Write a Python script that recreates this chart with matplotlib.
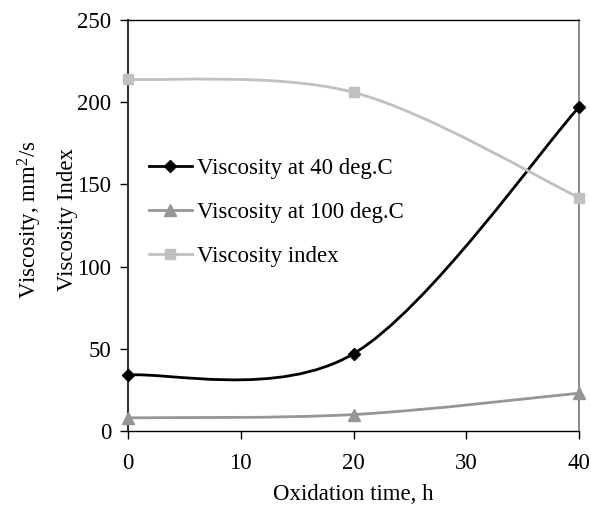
import matplotlib
matplotlib.use("Agg")
import matplotlib.pyplot as plt
from matplotlib.path import Path
from matplotlib.patches import PathPatch
from matplotlib.lines import Line2D

# data
time_h = [0, 20, 40]
visc_40 = [34, 47, 197]
visc_100 = [8, 10, 23]
visc_index = [214, 206, 142]

x_ticks = [0, 10, 20, 30, 40]
y_ticks = [0, 50, 100, 150, 200, 250]

plt.rcParams['font.family'] = ['Liberation Serif', 'DejaVu Serif']
plt.rcParams['mathtext.fontset'] = 'custom'
plt.rcParams['mathtext.rm'] = 'Liberation Serif'
plt.rcParams['mathtext.default'] = 'regular'

FS = 16.5


def smooth_path(xs, ys):
    # Catmull-Rom style bezier, like the spreadsheet "smoothed line"
    pts = list(zip(xs, ys))
    n = len(pts)
    verts = [pts[0]]
    codes = [Path.MOVETO]
    for i in range(n - 1):
        p0 = pts[i - 1] if i > 0 else pts[i]
        p1 = pts[i]
        p2 = pts[i + 1]
        p3 = pts[i + 2] if i + 2 < n else pts[i + 1]
        c1 = (p1[0] + (p2[0] - p0[0]) / 6, p1[1] + (p2[1] - p0[1]) / 6)
        c2 = (p2[0] - (p3[0] - p1[0]) / 6, p2[1] - (p3[1] - p1[1]) / 6)
        verts += [c1, c2, p2]
        codes += [Path.CURVE4] * 3
    return Path(verts, codes)


fig = plt.figure(figsize=(5.91, 5.08), dpi=100)
ax = fig.add_axes([0.2166, 0.1516, 0.7631, 0.809])

series = [
    (visc_40, 'Viscosity at 40 deg.C', 'black', 'D', 6),
    (visc_100, 'Viscosity at 100 deg.C', '#969696', '^', 8),
    (visc_index, 'Viscosity index', '#c0c0c0', 's', 7),
]

handles = []
for vals, label, col, mk, ms in series:
    patch = PathPatch(smooth_path(time_h, vals), facecolor='none',
                      edgecolor=col, lw=2.0, zorder=3, clip_on=False)
    ax.add_patch(patch)
    ax.plot(time_h, vals, linestyle='none', marker=mk, ms=ms, color=col,
            zorder=4, clip_on=False)
    handles.append(Line2D([], [], color=col, lw=2.0, marker=mk, ms=ms, label=label))

ax.set_xlim(0, 40)
ax.set_ylim(0, 250)
ax.set_xticks(x_ticks)
ax.set_yticks(y_ticks)
ax.tick_params(axis='x', direction='out', length=6, width=1, pad=10, labelsize=FS)
ax.tick_params(axis='y', direction='out', length=6, width=1, pad=6, labelsize=FS)

ax.spines['top'].set_color('black')
ax.spines['top'].set_linewidth(1)
ax.spines['right'].set_color('#808080')
ax.spines['right'].set_linewidth(1.3)
ax.spines['left'].set_color('#333333')
ax.spines['left'].set_linewidth(1.5)
ax.spines['bottom'].set_color('black')
ax.spines['bottom'].set_linewidth(1)

ax.set_xlabel('Oxidation time, h', fontsize=FS, labelpad=7)

fig.text(30 / 591, 0.567, 'Viscosity, mm$^{2}$/s', rotation=90, fontsize=FS,
         ha='center', va='center')
fig.text(67 / 591, 0.567, 'Viscosity Index', rotation=90, fontsize=FS,
         ha='center', va='center')

ax.legend(handles=handles, loc='upper left', bbox_to_anchor=(0.0, 0.715),
          frameon=False, fontsize=FS, handlelength=1.9, handletextpad=0.2,
          labelspacing=1.0)

fig.savefig('out.png', dpi=100)
